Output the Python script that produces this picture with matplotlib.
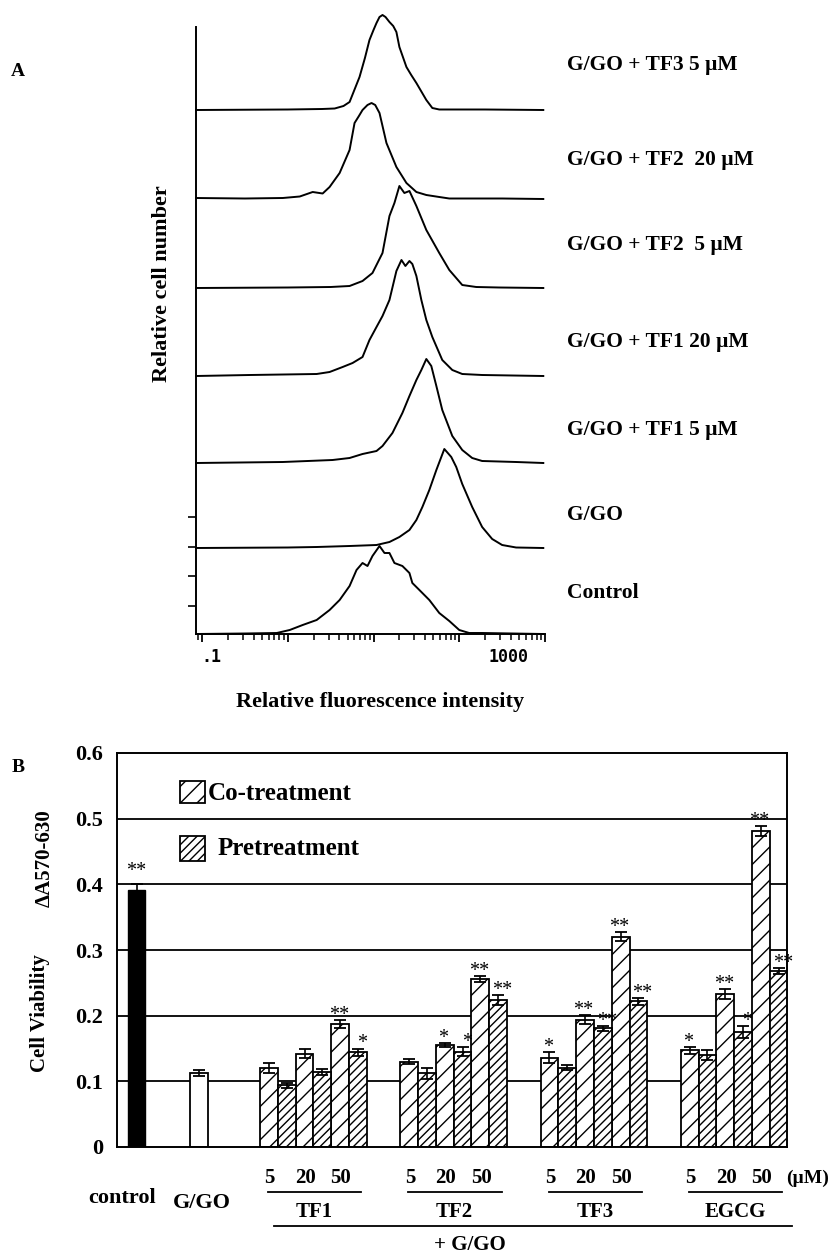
import numpy as np
import matplotlib
matplotlib.use("Agg")
import matplotlib.pyplot as plt
from matplotlib.patches import Rectangle
from matplotlib.ticker import LogLocator, NullFormatter, FixedLocator
import matplotlib.transforms as mtrans

plt.rcParams['font.family'] = ['Liberation Serif', 'DejaVu Serif']
plt.rcParams['font.weight'] = 'bold'
plt.rcParams['hatch.linewidth'] = 1.0

# ---------------- Panel A data (flow cytometry histograms, top to bottom) ----------------
hist_labels = ["G/GO + TF3 5 \u00b5M", "G/GO + TF2  20 \u00b5M", "G/GO + TF2  5 \u00b5M",
               "G/GO + TF1 20 \u00b5M", "G/GO + TF1 5 \u00b5M", "G/GO", "Control"]

# log10(relative fluorescence intensity) and relative cell number
tf3_5_log = [-1.07, 0.0, 0.40, 0.547, 0.65, 0.721, 0.837, 0.90, 0.953, 1.0, 1.035, 1.07, 1.105,
             1.14, 1.186, 1.23, 1.267, 1.302, 1.384, 1.44, 1.5, 1.616, 1.686, 1.767, 2.3, 2.98]
tf3_5_cnt = [0, 0.5, 1, 1.5, 4, 8, 33, 52, 70, 80, 87, 93, 95, 93, 88, 84, 78, 63, 43, 35, 27, 10,
             2, 0.5, 0.5, 0]

tf2_20_log = [-1.07, -0.5, -0.058, 0.140, 0.291, 0.407, 0.488, 0.605, 0.721, 0.779, 0.83, 0.872,
              0.93, 0.977, 1.02, 1.070, 1.151, 1.267, 1.384, 1.5, 1.616, 1.767, 1.884, 2.5, 2.98]
tf2_20_cnt = [1, 0.5, 1, 2.5, 7, 5.5, 12, 26, 49, 76, 83, 89, 94, 96, 94, 86, 56, 32, 16, 7, 4, 2,
              0.5, 0.5, 0]

tf2_5_log = [-1.07, 0.0, 0.5, 0.721, 0.872, 0.988, 1.105, 1.186, 1.244, 1.302, 1.36, 1.419, 1.5,
             1.616, 1.767, 1.884, 2.035, 2.198, 2.465, 2.98]
tf2_5_cnt = [0, 0.5, 1, 2, 7, 15, 35, 72, 85, 102, 95, 97, 82, 58, 35, 18, 3, 1, 0.5, 0]

tf1_20_log = [-1.07, -0.442, 0.337, 0.488, 0.640, 0.756, 0.872, 0.953, 1.035, 1.105, 1.186, 1.267,
              1.326, 1.372, 1.419, 1.453, 1.5, 1.558, 1.616, 1.686, 1.802, 1.919, 2.035, 2.267, 2.98]
tf1_20_cnt = [0, 1, 2, 4, 9, 13, 19, 36, 49, 60, 76, 105, 116, 110, 115, 112, 100, 76, 56, 39, 16,
              6, 2, 1, 0]

tf1_5_log = [-1.07, -0.058, 0.523, 0.721, 0.872, 1.035, 1.105, 1.221, 1.337, 1.419, 1.5, 1.558,
             1.616, 1.674, 1.733, 1.802, 1.919, 2.035, 2.151, 2.267, 2.663, 2.98]
tf1_5_cnt = [0, 1, 3, 5, 9, 12, 17, 30, 50, 67, 83, 93, 104, 97, 77, 53, 27, 13, 5, 2, 1, 0]

ggo_log = [-1.07, 0.0, 0.337, 0.721, 1.035, 1.186, 1.302, 1.419, 1.5, 1.570, 1.651, 1.733, 1.826,
           1.907, 1.965, 2.035, 2.151, 2.267, 2.384, 2.5, 2.663, 2.98]
ggo_cnt = [0, 0.5, 1, 2, 3, 6, 11, 18, 28, 41, 58, 78, 99, 91, 81, 64, 41, 21, 9, 3, 0.5, 0]

ctrl_log = [-1.07, -0.5, -0.128, 0.023, 0.174, 0.337, 0.488, 0.605, 0.721, 0.802, 0.872, 0.930,
            0.988, 1.070, 1.128, 1.186, 1.244, 1.337, 1.419, 1.453, 1.535, 1.651, 1.767, 1.884,
            2.0, 2.116, 2.267, 2.98]
ctrl_cnt = [0, 0.5, 1, 4, 9, 14, 24, 34, 48, 64, 71, 68, 78, 88, 81, 81, 71, 68, 61, 51, 44, 34,
            21, 13, 4, 1, 1, 0]

hist_logs = [tf3_5_log, tf2_20_log, tf2_5_log, tf1_20_log, tf1_5_log, ggo_log, ctrl_log]
hist_cnts = [tf3_5_cnt, tf2_20_cnt, tf2_5_cnt, tf1_20_cnt, tf1_5_cnt, ggo_cnt, ctrl_cnt]

# ---------------- Panel B data (cell viability) ----------------
groups = ["TF1", "TF2", "TF3", "EGCG"]
doses = ["5", "20", "50"]
control_val, control_err, control_sig = 0.392, 0.008, "**"
ggo_val, ggo_err = 0.113, 0.005
co_vals = [[0.120, 0.142, 0.187], [0.130, 0.155, 0.256], [0.136, 0.194, 0.320], [0.147, 0.233, 0.481]]
co_errs = [[0.008, 0.007, 0.006], [0.004, 0.003, 0.005], [0.008, 0.007, 0.007], [0.005, 0.008, 0.008]]
pre_vals = [[0.094, 0.114, 0.144], [0.112, 0.145, 0.224], [0.121, 0.181, 0.222], [0.140, 0.175, 0.268]]
pre_errs = [[0.004, 0.005, 0.006], [0.008, 0.007, 0.007], [0.004, 0.004, 0.005], [0.007, 0.009, 0.005]]
co_sig = [["", "", "**"], ["", "*", "**"], ["*", "**", "**"], ["*", "**", "**"]]
pre_sig = [["", "", "*"], ["", "*", "**"], ["", "**", "**"], ["", "*", "**"]]

# ---------------- Figure ----------------
W, H = 835, 1254
fig = plt.figure(figsize=(W / 100, H / 100), dpi=100)


def fx(p):
    return p / W


def fy(p):
    return 1 - p / H


# ---- Panel A ----
axA = fig.add_axes([fx(196), fy(634), fx(545) - fx(196), fy(27) - fy(634)])
axA.set_xscale('log')
axA.set_xlim(10 ** -1.07, 1000)
axA.set_ylim(0, 607)
baselines_px = [110, 199, 288, 376, 463, 548, 634]
for lg, cnt, b in zip(hist_logs, hist_cnts, baselines_px):
    axA.plot(10 ** np.asarray(lg), (634 - b) + np.asarray(cnt), color='black', lw=1.4,
             solid_joinstyle='round', clip_on=False)
for s in ['top', 'right']:
    axA.spines[s].set_visible(False)
for s in ['left', 'bottom']:
    axA.spines[s].set_linewidth(1.4)
axA.xaxis.set_major_locator(LogLocator(base=10, numticks=10))
axA.xaxis.set_minor_locator(LogLocator(base=10, subs=np.arange(2, 10), numticks=20))
axA.xaxis.set_major_formatter(NullFormatter())
axA.xaxis.set_minor_formatter(NullFormatter())
axA.tick_params(axis='x', which='major', direction='out', length=6, width=1.3)
axA.tick_params(axis='x', which='minor', direction='out', length=4, width=1.1)
axA.yaxis.set_major_locator(FixedLocator([28, 58, 87, 117]))
axA.set_yticklabels([])
axA.tick_params(axis='y', direction='out', length=6, width=1.2)

fig.text(fx(211), fy(657), ".1", ha='center', va='center', fontsize=12,
         family='DejaVu Sans Mono', fontweight='bold')
fig.text(fx(509), fy(657), "1000", ha='center', va='center', fontsize=12,
         family='DejaVu Sans Mono', fontweight='bold')
fig.text(fx(380), fy(702), "Relative fluorescence intensity", ha='center', va='center', fontsize=16)
fig.text(fx(162), fy(284), "Relative cell number", ha='center', va='center', fontsize=16,
         rotation=90)
fig.text(fx(18), fy(72), "A", ha='center', va='center', fontsize=14)

label_y = [65, 160, 245, 342, 430, 515, 593]
for lab, ypx in zip(hist_labels, label_y):
    fig.text(fx(567), fy(ypx), lab, ha='left', va='center', fontsize=15.5)

# ---- Panel B ----
axB = fig.add_axes([fx(117), fy(1147), fx(787) - fx(117), fy(753) - fy(1147)])
unit = 17.8
axB.set_xlim(0, (787 - 117) / unit)
axB.set_ylim(0, 0.6)
axB.set_yticks([0, 0.1, 0.2, 0.3, 0.4, 0.5, 0.6])
axB.set_yticklabels(["0", "0.1", "0.2", "0.3", "0.4", "0.5", "0.6"], fontsize=16)
axB.tick_params(axis='y', length=0, pad=10)
axB.set_xticks([])
for s in axB.spines.values():
    s.set_linewidth(1.4)
for yv in [0.1, 0.2, 0.3, 0.4, 0.5]:
    axB.axhline(yv, color='black', lw=1.3, zorder=0.5)

ctrl_x = (136.5 - 117) / unit
ggo_x = (199 - 117) / unit
gap = 7.88
group_start = [(260 - 117) / unit + g * gap for g in range(len(groups))]

star_kw = dict(textcoords='offset points', ha='center', va='baseline', fontsize=14.5,
               fontweight='normal', annotation_clip=False)
err_kw = dict(fmt='none', ecolor='black', capsize=4, elinewidth=1.2, capthick=1.3, zorder=3)

axB.bar([ctrl_x], [control_val], width=0.96, color='black', edgecolor='black', zorder=2)
axB.errorbar([ctrl_x], [control_val], yerr=[control_err], **err_kw)
axB.annotate(control_sig, (ctrl_x, control_val + control_err), xytext=(0, 6), **star_kw)

axB.bar([ggo_x], [ggo_val], width=1.0, color='white', edgecolor='black', lw=1.3, zorder=2)
axB.errorbar([ggo_x], [ggo_val], yerr=[ggo_err], **err_kw)

for g in range(len(groups)):
    st = group_start[g]
    co_x = [st + 2 * i + 0.5 for i in range(3)]
    pre_x = [st + 2 * i + 1.5 for i in range(3)]
    axB.bar(co_x, co_vals[g], width=1.0, color='white', edgecolor='black', lw=1.3,
            hatch='//', zorder=2)
    axB.bar(pre_x, pre_vals[g], width=1.0, color='white', edgecolor='black', lw=1.3,
            hatch='////', zorder=2)
    axB.errorbar(co_x, co_vals[g], yerr=co_errs[g], **err_kw)
    axB.errorbar(pre_x, pre_vals[g], yerr=pre_errs[g], **err_kw)
    for i in range(3):
        if co_sig[g][i]:
            axB.annotate(co_sig[g][i], (co_x[i], co_vals[g][i] + co_errs[g][i]),
                         xytext=(-1, 0), **star_kw)
        if pre_sig[g][i]:
            axB.annotate(pre_sig[g][i], (pre_x[i], pre_vals[g][i] + pre_errs[g][i]),
                         xytext=(3, 0), **star_kw)

# legend
axB.add_patch(Rectangle((3.54, 0.524), 1.4, 0.033, facecolor='white', edgecolor='black',
                        lw=1.3, hatch='//', zorder=4))
axB.add_patch(Rectangle((3.54, 0.435), 1.4, 0.038, facecolor='white', edgecolor='black',
                        lw=1.3, hatch='////', zorder=4))
axB.text(5.11, 0.539, "Co-treatment", ha='left', va='center', fontsize=18, zorder=5)
axB.text(5.67, 0.455, "Pretreatment", ha='left', va='center', fontsize=18, zorder=5)

fig.text(fx(45), fy(858), "\u0394A570-630", ha='center', va='center', rotation=90, fontsize=15)
fig.text(fx(40), fy(1013), "Cell Viability", ha='center', va='center', rotation=90, fontsize=15)
fig.text(fx(18), fy(768), "B", ha='center', va='center', fontsize=14)

trans = mtrans.blended_transform_factory(axB.transData, fig.transFigure)
for g, name in enumerate(groups):
    st = group_start[g]
    for i, d in enumerate(doses):
        axB.text(st + 2 * i + 1 - 0.45, fy(1178), d, transform=trans, ha='center',
                 va='center', fontsize=15)
    axB.plot([st + 0.45, st + 5.7], [fy(1192), fy(1192)], transform=trans, color='black',
             lw=1.3, clip_on=False)
    axB.text(st + 3.05, fy(1212), name, transform=trans, ha='center', va='center', fontsize=15)
axB.plot([(274 - 117) / unit, (792 - 117) / unit], [fy(1226), fy(1226)], transform=trans,
         color='black', lw=1.3, clip_on=False)
axB.text((470 - 117) / unit, fy(1245), "+ G/GO", transform=trans, ha='center', va='center',
         fontsize=15)
axB.text((786 - 117) / unit, fy(1178), "(\u00b5M)", transform=trans, ha='left', va='center',
         fontsize=14)
fig.text(fx(122), fy(1198), "control", ha='center', va='center', fontsize=16)
fig.text(fx(202), fy(1203), "G/GO", ha='center', va='center', fontsize=16)

fig.savefig("out.png", dpi=100, facecolor='white')
